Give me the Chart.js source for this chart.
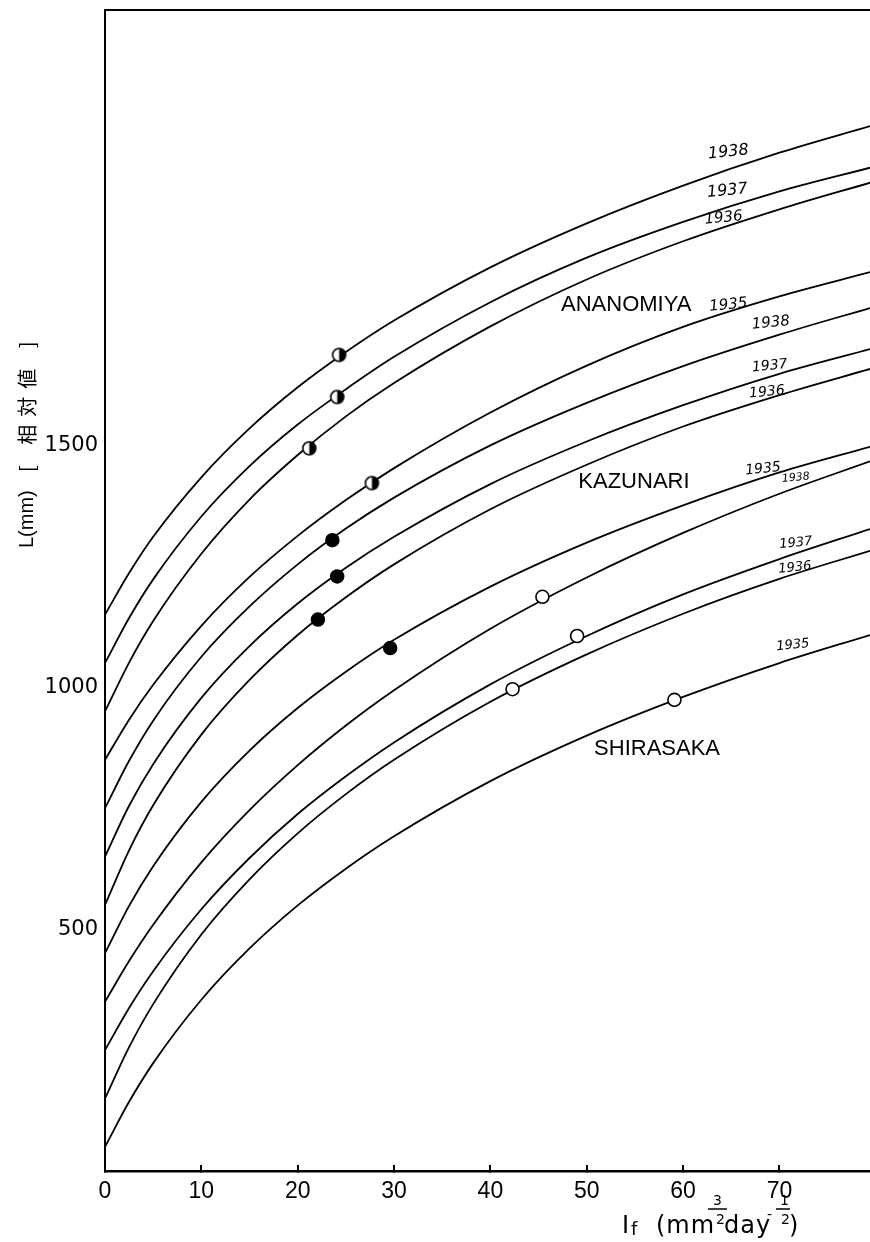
<!DOCTYPE html>
<html><head><meta charset="utf-8">
<script src="https://cdn.jsdelivr.net/npm/chart.js@4.4.0/dist/chart.umd.min.js"></script>
<style>html,body{margin:0;padding:0;background:#fff;overflow:hidden}canvas{display:block}</style>
</head><body>
<canvas id="c" width="870" height="1242"></canvas>
<script>
// ---- data ----
const xValues = [0, 2.5, 5, 10, 15, 20, 25, 30, 40, 50, 60, 70, 79.4];
const ananomiya1938 = [1150, 1236, 1311, 1434, 1535, 1620, 1693, 1758, 1868, 1959, 2037, 2105, 2160];
const ananomiya1937 = [1050, 1143, 1223, 1353, 1457, 1543, 1616, 1683, 1796, 1888, 1962, 2025, 2074];
const ananomiya1936 = [950, 1051, 1137, 1276, 1388, 1480, 1560, 1629, 1746, 1843, 1922, 1988, 2043];
const ananomiya1935 = [850, 933, 1005, 1127, 1228, 1313, 1387, 1453, 1568, 1665, 1745, 1808, 1858];
const kazunari1938 = [750, 848, 931, 1063, 1167, 1254, 1328, 1392, 1500, 1588, 1664, 1729, 1784];
const kazunari1937 = [650, 755, 841, 978, 1085, 1173, 1247, 1311, 1420, 1508, 1583, 1648, 1699];
const kazunari1936 = [550, 663, 756, 902, 1015, 1108, 1186, 1254, 1368, 1460, 1539, 1604, 1658];
const kazunari1935 = [450, 548, 630, 763, 869, 957, 1032, 1098, 1208, 1299, 1376, 1444, 1497];
const shirasaka1938 = [350, 434, 509, 638, 746, 839, 921, 994, 1121, 1227, 1319, 1400, 1467];
const shirasaka1937 = [250, 337, 413, 541, 647, 738, 816, 886, 1006, 1106, 1192, 1265, 1327];
const shirasaka1936 = [150, 256, 345, 489, 603, 698, 779, 850, 970, 1068, 1152, 1224, 1282];
const shirasaka1935 = [50, 143, 223, 354, 460, 549, 625, 692, 806, 900, 980, 1050, 1108];

const ananomiyaPointX = [24.3, 24.1, 21.2, 27.7];
const ananomiyaPointY = [1687, 1600, 1494, 1422];
const kazunariPointX = [23.6, 24.1, 22.1, 29.6];
const kazunariPointY = [1304, 1229, 1140, 1081];
const shirasakaPointX = [45.4, 49.0, 42.3, 59.1];
const shirasakaPointY = [1187, 1106, 996, 974];

const xTickValues = [0, 10, 20, 30, 40, 50, 60, 70];
const yTickValues = [500, 1000, 1500];

// annotations (data coordinates)
const yearLabels = [
  {t:'1938', x:64.7, y:2106, s:16}, {t:'1937', x:64.6, y:2026, s:16}, {t:'1936', x:64.2, y:1970, s:15},
  {t:'1935', x:64.7, y:1790, s:15},
  {t:'1938', x:69.1, y:1753, s:15}, {t:'1937', x:69.0, y:1664, s:14}, {t:'1936', x:68.7, y:1610, s:14},
  {t:'1935', x:68.3, y:1451, s:14}, {t:'1938', x:71.7, y:1433, s:11},
  {t:'1937', x:71.7, y:1298, s:13}, {t:'1936', x:71.6, y:1247, s:13}, {t:'1935', x:71.4, y:1087, s:13}
];
const stationLabels = [
  {t:'ANANOMIYA', x:54.1, y:1790}, {t:'KAZUNARI', x:54.9, y:1424}, {t:'SHIRASAKA', x:57.3, y:872}
];

// ---- build ----
const pts = ys => xValues.map((x,i)=>({x, y: ys[i]}));
const mpts = (xs, ys) => xs.map((x,i)=>({x, y: ys[i]}));
const curves = [ananomiya1938, ananomiya1937, ananomiya1936, ananomiya1935,
  kazunari1938, kazunari1937, kazunari1936, kazunari1935,
  shirasaka1938, shirasaka1937, shirasaka1936, shirasaka1935];

function halfCircle(r){
  const s = Math.ceil(2*r+4), c = document.createElement('canvas');
  c.width = s; c.height = s;
  const g = c.getContext('2d'), m = s/2;
  g.fillStyle='#fff'; g.beginPath(); g.arc(m,m,r,0,2*Math.PI); g.fill();
  g.fillStyle='#000'; g.beginPath(); g.moveTo(m,m-r); g.arc(m,m,r,-Math.PI/2,Math.PI/2); g.closePath(); g.fill();
  g.strokeStyle='#000'; g.lineWidth=1.6; g.beginPath(); g.arc(m,m,r,0,2*Math.PI); g.stroke();
  return c;
}

const datasets = curves.map(c => ({
  type:'scatter', data: pts(c), showLine:true, borderColor:'#000', borderWidth:1.8,
  pointRadius:0, cubicInterpolationMode:'monotone', fill:false, order:1
}));
datasets.push({type:'scatter', data: mpts(ananomiyaPointX, ananomiyaPointY), pointStyle: halfCircle(6.5), pointRadius:7, order:0});
datasets.push({type:'scatter', data: mpts(kazunariPointX, kazunariPointY), pointStyle:'circle', pointRadius:6.5, backgroundColor:'#000', borderColor:'#000', borderWidth:1.5, order:0});
datasets.push({type:'scatter', data: mpts(shirasakaPointX, shirasakaPointY), pointStyle:'circle', pointRadius:6.5, backgroundColor:'#fff', borderColor:'#000', borderWidth:1.6, order:0});

const textPlugin = {
  id:'texts',
  afterDraw(chart){
    const ctx = chart.ctx, xs = chart.scales.x, ys = chart.scales.y, a = chart.chartArea;
    ctx.save();
    // top frame line
    ctx.strokeStyle='#000'; ctx.lineWidth=2;
    ctx.beginPath(); ctx.moveTo(a.left-1, a.top); ctx.lineTo(a.right, a.top); ctx.stroke();
    ctx.fillStyle='#000';
    // year labels
    ctx.textAlign='center'; ctx.textBaseline='middle';
    yearLabels.forEach(l=>{
      ctx.save();
      ctx.translate(xs.getPixelForValue(l.x), ys.getPixelForValue(l.y));
      ctx.rotate(-0.1);
      ctx.font = 'italic ' + l.s + 'px "DejaVu Sans"';
      ctx.fillText(l.t, 0, 0);
      ctx.restore();
    });
    // station labels
    ctx.font = '22px "Liberation Sans"';
    stationLabels.forEach(l=>{
      ctx.fillText(l.t, xs.getPixelForValue(l.x), ys.getPixelForValue(l.y));
    });
    // y axis title (rotated)
    ctx.save();
    ctx.translate(27, 430); ctx.rotate(-Math.PI/2);
    ctx.textAlign='left'; ctx.textBaseline='middle';
    ctx.font = '20px "Liberation Sans Narrow", "Liberation Sans"';
    ctx.fillText('L(mm)', -118, 0);
    ctx.font = '20px "Noto Sans CJK JP"';
    if ('letterSpacing' in ctx) ctx.letterSpacing = '8px';
    ctx.fillText('[ 相対値 ]', -42, 0);
    ctx.restore();
    // x axis title
    ctx.textAlign='left'; ctx.textBaseline='alphabetic';
    if ('letterSpacing' in ctx) ctx.letterSpacing = '1px';
    ctx.font = '24px "DejaVu Sans"';
    ctx.fillText('I', 622, 1233);
    ctx.font = '18px "DejaVu Sans"';
    ctx.fillText('f', 631, 1235);
    ctx.font = '24px "DejaVu Sans"';
    ctx.fillText('(mm', 656, 1233);
    ctx.fillText('day', 724, 1233);
    ctx.fillText(')', 789, 1233);
    ctx.font = '14px "DejaVu Sans"';
    ctx.fillText('3', 713, 1205);
    ctx.fillText('2', 716, 1224);
    ctx.fillText('1', 780, 1205);
    ctx.fillText('2', 781, 1224);
    ctx.fillText('-', 767, 1219);
    ctx.lineWidth = 1.5;
    ctx.beginPath(); ctx.moveTo(708, 1209); ctx.lineTo(727, 1209); ctx.stroke();
    ctx.beginPath(); ctx.moveTo(776, 1209); ctx.lineTo(790, 1209); ctx.stroke();
    ctx.restore();
  }
};

new Chart(document.getElementById('c'), {
  type:'scatter',
  data:{datasets},
  options:{
    responsive:false, animation:false, devicePixelRatio:1,
    layout:{autoPadding:false, padding:{top:10, right:0, left:0, bottom:0}},
    plugins:{legend:{display:false}, tooltip:{enabled:false}},
    scales:{
      x:{type:'linear', min:0, max:79.4,
        afterBuildTicks: s => { s.ticks = xTickValues.map(v=>({value:v})); },
        afterFit: s => { s.height = 71; s.paddingRight = 0; s.paddingLeft = 0; s.paddingTop = 0; s.paddingBottom = 0; },
        grid:{display:true, drawOnChartArea:false, drawTicks:true, tickLength:-6, color:'#000', lineWidth:2},
        border:{display:true, color:'#000', width:2.5},
        ticks:{color:'#000', padding:13, maxRotation:0, autoSkip:false, callback: v => String(v), font:{family:'Liberation Sans', size:23}}
      },
      y:{type:'linear', min:0, max:2400,
        afterBuildTicks: s => { s.ticks = yTickValues.map(v=>({value:v})); },
        afterFit: s => { s.width = 105; s.paddingTop = 0; s.paddingBottom = 0; s.paddingLeft = 0; s.paddingRight = 0; },
        grid:{display:false, drawTicks:false},
        border:{display:true, color:'#000', width:2},
        ticks:{color:'#000', padding:7, callback: v => String(v), font:{family:'DejaVu Sans', size:21}}
      }
    }
  },
  plugins:[textPlugin]
});
</script>
</body></html>
